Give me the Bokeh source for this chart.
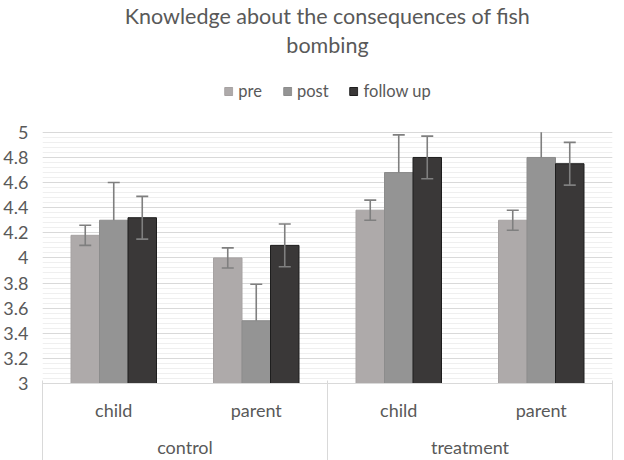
from bokeh.plotting import figure
from bokeh.models import (ColumnDataSource, Range1d, FixedTicker, LinearAxis,
                          Legend, LegendItem, Title)
from bokeh.transform import dodge
from bokeh.embed import file_html
from bokeh.resources import INLINE
import numpy as np

# ---- data ----
groups = ["control", "control", "treatment", "treatment"]
roles = ["child", "parent", "child", "parent"]
series = ["pre", "post", "follow up"]
pre = [4.18, 4.00, 4.38, 4.30]
post = [4.30, 3.50, 4.68, 4.80]
follow_up = [4.32, 4.10, 4.80, 4.75]
pre_err = [0.08, 0.08, 0.08, 0.08]
post_err = [0.30, 0.29, 0.30, 0.30]
follow_up_err = [0.17, 0.17, 0.17, 0.17]
y_ticks = [3.0, 3.2, 3.4, 3.6, 3.8, 4.0, 4.2, 4.4, 4.6, 4.8, 5.0]
y_tick_labels = ["3", "3.2", "3.4", "3.6", "3.8", "4", "4.2", "4.4", "4.6", "4.8", "5"]
title_lines = ["Knowledge about the consequences of fish", "bombing"]

colors = ["#aeaaaa", "#949494", "#3a3838"]
edge_colors = ["#a6a2a2", "#8c8c8c", "#1e1e1e"]
FONT = "Lato"
TXT = "#595959"

ymin, ymax = y_ticks[0], y_ticks[-1]
legend_room = 0.58  # space above the value axis that holds the legend

n = len(roles)
centers = [i + 0.5 for i in range(n)]
group_names = list(dict.fromkeys(groups))
group_centers = [float(np.mean([c for c, g in zip(centers, groups) if g == gn])) for gn in group_names]
group_edges = [0.0] + [float(sum(1 for g in groups if g == gn)) for gn in group_names]
group_edges = [float(v) for v in np.cumsum(group_edges)]

p = figure(frame_width=570, frame_height=324, x_range=Range1d(0, n),
           y_range=Range1d(ymin, ymax + legend_room),
           output_backend="svg", toolbar_location=None, title_location=None,
           min_border_left=36, min_border_right=2, min_border_bottom=10, min_border_top=0)
p.outline_line_color = None
p.background_fill_color = "white"


def hi_clip(vals, errs):
    return [min(v + e, ymax) for v, e in zip(vals, errs)]


def cap(vals, errs):
    return [v + e if v + e <= ymax else float("nan") for v, e in zip(vals, errs)]


src = ColumnDataSource(dict(
    x=centers,
    pre=pre, post=post, follow=follow_up,
    pre_lo=[v - e for v, e in zip(pre, pre_err)], pre_hi=hi_clip(pre, pre_err), pre_cap=cap(pre, pre_err),
    post_lo=list(post), post_hi=hi_clip(post, post_err), post_cap=cap(post, post_err),
    fol_lo=[v - e for v, e in zip(follow_up, follow_up_err)],
    fol_hi=hi_clip(follow_up, follow_up_err), fol_cap=cap(follow_up, follow_up_err),
))

offsets = [-0.2, 0.0, 0.2]
cols = ["pre", "post", "follow"]
los = ["pre_lo", "post_lo", "fol_lo"]
his = ["pre_hi", "post_hi", "fol_hi"]
caps = ["pre_cap", "post_cap", "fol_cap"]
bar_renderers = []
for i in range(3):
    r = p.vbar(x=dodge("x", offsets[i]), top=cols[i], bottom=ymin, width=0.2,
               source=src, fill_color=colors[i], line_color=edge_colors[i], line_width=1)
    bar_renderers.append(r)

ecol = "#7f7f7f"
for i in range(3):
    xd = dodge("x", offsets[i])
    p.segment(x0=xd, x1=xd, y0=los[i], y1=his[i], source=src, line_color=ecol, line_width=1.6)
    p.scatter(x=xd, y=caps[i], source=src, marker="dash", size=12, line_color=ecol, line_width=1.6)
    if i != 1:
        p.scatter(x=xd, y=los[i], source=src, marker="dash", size=12, line_color=ecol, line_width=1.6)

# y axis
yax = p.yaxis[0]
yax.ticker = FixedTicker(ticks=y_ticks, minor_ticks=[float(v) for v in np.round(np.arange(ymin, ymax + 0.001, 0.04), 2)])
yax.major_label_overrides = {t: l for t, l in zip(y_ticks, y_tick_labels)}
yax.axis_line_color = None
yax.major_tick_line_color = None
yax.minor_tick_line_color = None
yax.major_label_standoff = 8
yax.major_label_text_font = FONT
yax.major_label_text_font_size = "18px"
yax.major_label_text_color = TXT

p.ygrid.grid_line_color = "#d9d9d9"
p.ygrid.grid_line_width = 1
p.ygrid.minor_grid_line_color = "#efefef"
p.ygrid.minor_grid_line_width = 1
p.xgrid.grid_line_color = None

# x axis level 1: roles
xax = p.xaxis[0]
xax.ticker = FixedTicker(ticks=centers, minor_ticks=[])
xax.major_label_overrides = {c: r for c, r in zip(centers, roles)}
xax.axis_line_color = "#d9d9d9"
xax.major_tick_line_color = None
xax.minor_tick_line_color = None
xax.major_label_text_font = FONT
xax.major_label_text_font_size = "18px"
xax.major_label_text_color = TXT
xax.major_label_standoff = 9

# x axis level 2: groups
gax = LinearAxis(ticker=FixedTicker(ticks=group_centers, minor_ticks=[]),
                 axis_line_color=None, major_tick_line_color=None, minor_tick_line_color=None,
                 major_label_text_font=FONT, major_label_text_font_size="18px",
                 major_label_text_color=TXT, major_label_standoff=6)
gax.major_label_overrides = {c: g for c, g in zip(group_centers, group_names)}
p.add_layout(gax, "below")

# boundary lines of the category box
eax = LinearAxis(ticker=FixedTicker(ticks=group_edges, minor_ticks=[]),
                 axis_line_color=None, major_tick_in=80, major_tick_out=0,
                 major_tick_line_color="#d9d9d9", major_tick_line_width=1,
                 major_label_text_font_size="1px", major_label_standoff=0)
eax.major_label_overrides = {e: " " for e in group_edges}
p.add_layout(eax, "below")

# legend (inside the frame, above the value range)
legend = Legend(items=[LegendItem(label=s, renderers=[r]) for s, r in zip(series, bar_renderers)],
                orientation="horizontal", location="top_center",
                label_text_font=FONT, label_text_font_size="16.5px", label_text_color=TXT,
                glyph_width=10, glyph_height=10, spacing=20, label_standoff=5,
                border_line_color=None, background_fill_alpha=0, padding=0, margin=22)
p.add_layout(legend)

p.add_layout(Title(text=title_lines[1], align="center", text_font=FONT, text_font_size="21.5px",
                   text_font_style="normal", text_color=TXT, offset=-30, standoff=3), "above")
p.add_layout(Title(text=title_lines[0], align="center", text_font=FONT, text_font_size="21.5px",
                   text_font_style="normal", text_color=TXT, offset=-30, standoff=0), "above")

open("out.html", "w").write(file_html(p, INLINE))
